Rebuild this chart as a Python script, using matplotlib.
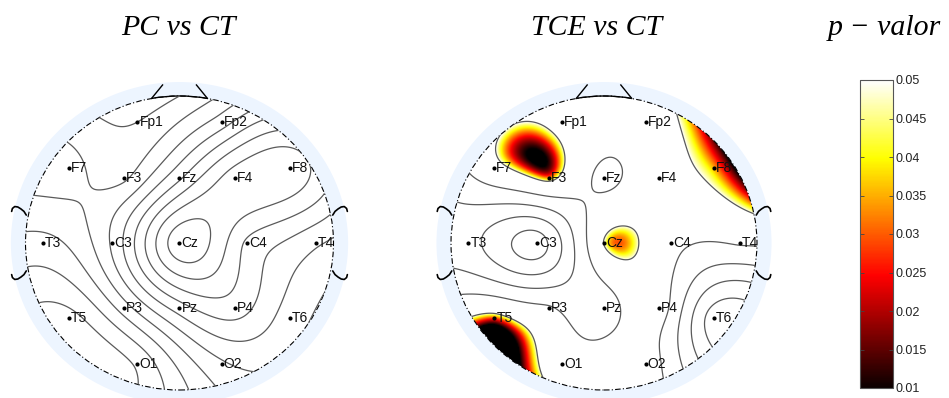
import numpy as np
import matplotlib
matplotlib.use("Agg")
import matplotlib.pyplot as plt
from matplotlib.patches import Wedge, Circle, Arc
from matplotlib.colors import Normalize
import matplotlib.cm as cm

# 10-20 electrode layout (head radius = 1)
channels = ['Fp1', 'Fp2', 'F7', 'F3', 'Fz', 'F4', 'F8', 'T3', 'C3', 'Cz',
            'C4', 'T4', 'T5', 'P3', 'Pz', 'P4', 'T6', 'O1', 'O2']
chan_x = [-0.273, 0.273, -0.717, -0.36, 0.0, 0.36, 0.717, -0.887, -0.437, 0.0,
          0.437, 0.887, -0.717, -0.36, 0.0, 0.36, 0.717, -0.273, 0.273]
chan_y = [0.823, 0.823, 0.51, 0.442, 0.442, 0.442, 0.51, 0.0, 0.0, 0.0,
          0.0, 0.0, -0.51, -0.442, -0.442, -0.442, -0.51, -0.823, -0.823]

# p-values per electrode
p_pc_ct = [0.47, 0.62, 0.55, 0.52, 0.70, 0.86, 0.87, 0.45, 0.60, 0.93,
           0.76, 0.66, 0.33, 0.50, 0.68, 0.74, 0.62, 0.36, 0.58]
p_tce_ct = [0.08, 0.09, 0.075, 0.035, 0.17, 0.08, 0.035, 0.32, 0.50, 0.048,
            0.12, 0.14, 0.03, 0.14, 0.20, 0.10, 0.50, 0.10, 0.10]

titles = ['PC vs CT', 'TCE vs CT']
cbar_title = 'p \u2212 valor'
cbar_ticks = [0.01, 0.015, 0.02, 0.025, 0.03, 0.035, 0.04, 0.045, 0.05]
cbar_labels = ['0.01', '0.015', '0.02', '0.025', '0.03', '0.035', '0.04', '0.045', '0.05']
p_min, p_max = 0.01, 0.05

W, H = 949, 398
fig = plt.figure(figsize=(W / 100, H / 100), dpi=100)

def px_axes(cx, cy, rx, ry, span):
    w = 2 * span * rx
    h = 2 * span * ry
    return fig.add_axes([(cx - w / 2) / W, (H - cy - h / 2) / H, w / W, h / H])

cmap = plt.get_cmap('hot').copy()
cmap.set_over('white')
cmap.set_under('black')
norm = Normalize(vmin=p_min, vmax=p_max)
ring_color = (0.93, 0.96, 1.0)


def green(r):
    with np.errstate(divide='ignore', invalid='ignore'):
        g = r ** 2 * (np.log(r) - 1.0)
    return np.where(r == 0, 0.0, g)


def biharmonic(xs, ys, vals, gx, gy):
    xs = np.asarray(xs); ys = np.asarray(ys)
    d = np.hypot(xs[:, None] - xs[None, :], ys[:, None] - ys[None, :])
    w = np.linalg.solve(green(d), np.asarray(vals, dtype=float))
    dd = np.hypot(gx[..., None] - xs, gy[..., None] - ys)
    return green(dd) @ w


def draw_head(ax, vals, levels):
    g = np.linspace(-1.02, 1.02, 260)
    gx, gy = np.meshgrid(g, g)
    z = biharmonic(chan_x, chan_y, vals, gx, gy)
    clip = Circle((0, 0), 1.0, transform=ax.transData, fc='none', ec='none')
    im = ax.imshow(z, extent=(-1.02, 1.02, -1.02, 1.02), origin='lower',
                   cmap=cmap, norm=norm, interpolation='bilinear', aspect='auto')
    im.set_clip_path(clip)
    cs = ax.contour(gx, gy, z, levels=levels, colors='#5a5a5a', linewidths=0.9)
    cs.set_clip_path(clip)

    ax.add_patch(Wedge((0, 0), 1.095, 0, 360, width=0.095, fc=ring_color, ec='none'))
    ax.add_patch(Circle((0, 0), 1.0, fill=False, ec='black', lw=0.8,
                        ls=(0, (5, 2, 1, 2))))
    ax.add_patch(Arc((0, 0), 2.0, 2.0, theta1=79.6, theta2=100.4, color='black', lw=1.0))
    # nose
    for s in (-1, 1):
        ax.plot([s * 0.181, s * 0.11], [0.984, 1.075], color='black', lw=1.0)
    # ears
    ex = np.array([-1.09, -1.085, -1.07, -1.05, -1.03, -1.01, -0.995])
    ey = np.array([0.215, 0.235, 0.248, 0.245, 0.232, 0.215, 0.19])
    for sx in (-1, 1):
        for sy in (-1, 1):
            ax.plot(-sx * ex, sy * ey, color='black', lw=1.2, solid_capstyle='round')
    # electrodes
    ax.plot(chan_x, chan_y, 'o', color='black', ms=3, mew=0)
    for name, x, y in zip(channels, chan_x, chan_y):
        ax.annotate(name, (x, y), xytext=(2, 0), textcoords='offset pixels',
                    va='center', ha='left', fontsize=10, family='Liberation Sans',
                    color='#111111')
    ax.set_xlim(-1.16, 1.16)
    ax.set_ylim(-1.16, 1.16)
    ax.axis('off')


ax1 = px_axes(179.5, 243, 154, 147, 1.16)
draw_head(ax1, p_pc_ct, np.arange(0.29, 1.0, 0.06))
ax2 = px_axes(604, 243, 153, 147, 1.16)
draw_head(ax2, p_tce_ct, np.arange(0.05, 1.0, 0.1))

title_font = dict(family='Liberation Serif', style='italic', fontsize=21.5,
                  va='baseline', ha='center')
fig.text(178.5 / W, (H - 35) / H, titles[0], **title_font)
fig.text(597 / W, (H - 35) / H, titles[1], **title_font)
fig.text(884 / W, (H - 35) / H, cbar_title, **title_font)

cax = fig.add_axes([860 / W, (H - 388) / H, 33 / W, 308 / H])
cb = fig.colorbar(cm.ScalarMappable(norm=norm, cmap=plt.get_cmap('hot')), cax=cax)
cb.set_ticks(cbar_ticks)
cb.set_ticklabels(cbar_labels)
cb.outline.set_edgecolor('#555555')
cb.outline.set_linewidth(0.8)
cax.tick_params(axis='y', direction='in', length=3, width=0.6, color='#444444',
                left=True, right=True, labelsize=9, pad=2, labelcolor='#222222')
for t in cax.get_yticklabels():
    t.set_family('Liberation Sans')

fig.savefig('out.png', dpi=100)
